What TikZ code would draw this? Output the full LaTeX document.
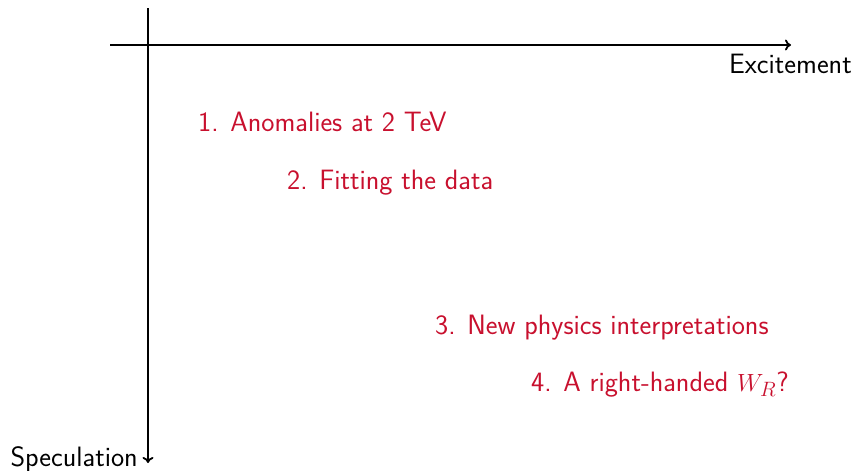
\documentclass[tikz,border=0pt]{standalone}
\usetikzlibrary{arrows.meta}
\definecolor{accent}{RGB}{200,16,46}
\tikzset{
  axis/.style={line width=1.8pt,-{To[length=6pt,width=11pt]}},
  txt/.style={font=\sffamily\fontsize{28}{33}\selectfont,inner sep=0pt},
  axlabel/.style={txt,anchor=base east},
  item/.style={txt,text=accent,anchor=base west}
}
\begin{document}
\begin{tikzpicture}[x=1pt,y=-1pt]
\useasboundingbox (0,0) rectangle (855,471);
\coordinate (hs) at (110,45);
\coordinate (he) at (791,45);
\coordinate (vs) at (148,8);
\coordinate (ve) at (148,463);
\draw[axis] (hs) -- (he);
\draw[axis] (vs) -- (ve);
\node[axlabel] (exc) at (852,73) {Excitement};
\node[axlabel] (spec) at (138,466) {Speculation};
\node[item] (i1) at (198,131) {1. Anomalies at 2 TeV};
\node[item] (i2) at (287,189) {2. Fitting the data};
\node[item] (i3) at (435,334) {3. New physics interpretations};
\node[item] (i4) at (531,391) {4. A right-handed $W_R$?};
\end{tikzpicture}
\end{document}
